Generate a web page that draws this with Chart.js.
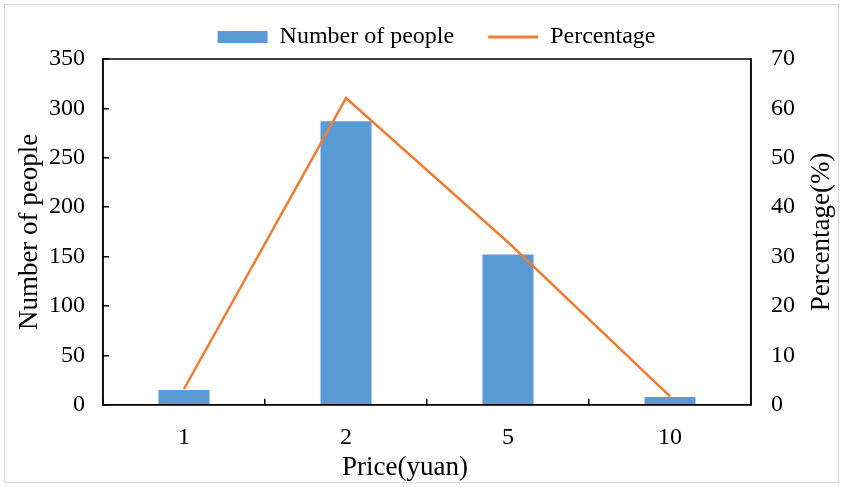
<!DOCTYPE html>
<html>
<head>
<meta charset="utf-8">
<script src="https://cdn.jsdelivr.net/npm/chart.js@4/dist/chart.umd.min.js"></script>
<style>
  html, body { margin: 0; padding: 0; background: #fff; }
  #wrap { width: 843px; height: 487px; }
</style>
</head>
<body>
<div id="wrap"><canvas id="chart"></canvas></div>
<script>
// price categories (yuan)
const prices = ['1', '2', '5', '10'];
// number of people per price
const people = [15, 287, 152, 8];
// share of people (%)
const percentage = [3.2, 62.1, 32.9, 1.7];
// axis ranges
const leftTicks = [0, 50, 100, 150, 200, 250, 300, 350];
const rightTicks = [0, 10, 20, 30, 40, 50, 60, 70];

const serif = "'Liberation Serif', 'Times New Roman', serif";
const black = '#000000';
const blue = '#5B9BD5';
const orange = '#ED7D31';

// frame round the picture, box round the plot, and the titles Chart.js can't place like Excel does
const framePlugin = {
  id: 'frame',
  beforeDraw(chart) {
    const ctx = chart.ctx;
    ctx.save();
    ctx.strokeStyle = '#d9d9d9';
    ctx.lineWidth = 1;
    ctx.strokeRect(4.5, 4.5, chart.width - 9, chart.height - 9);
    ctx.restore();
  },
  afterDraw(chart) {
    const { ctx, chartArea } = chart;
    ctx.save();
    ctx.strokeStyle = black;
    ctx.lineWidth = 1.5;
    ctx.strokeRect(chartArea.left, chartArea.top, chartArea.right - chartArea.left, chartArea.bottom - chartArea.top);

    ctx.fillStyle = black;
    ctx.font = '27px ' + serif;
    ctx.textAlign = 'center';
    ctx.textBaseline = 'middle';
    // x title sits a little left of the plot centre
    const x = chart.scales.x;
    ctx.fillText('Price(yuan)', (chartArea.left + chartArea.right) / 2 - 22, x.bottom - 15);

    // right title reads bottom-up
    const right = chart.scales.y1;
    ctx.translate(right.left + 71, (chartArea.top + chartArea.bottom) / 2);
    ctx.rotate(-Math.PI / 2);
    ctx.fillText('Percentage(%)', 0, 0);
    ctx.restore();
  }
};

new Chart(document.getElementById('chart'), {
  type: 'bar',
  data: {
    labels: prices,
    datasets: [
      {
        type: 'line',
        label: 'Percentage',
        data: percentage,
        yAxisID: 'y1',
        borderColor: orange,
        backgroundColor: orange,
        borderWidth: 2.5,
        pointRadius: 0,
        pointStyle: 'line',
        tension: 0,
        order: 0
      },
      {
        label: 'Number of people',
        data: people,
        yAxisID: 'y',
        backgroundColor: blue,
        borderWidth: 0,
        pointStyle: 'rect',
        categoryPercentage: 1,
        barPercentage: 0.315,
        order: 1
      }
    ]
  },
  options: {
    responsive: true,
    maintainAspectRatio: false,
    animation: false,
    layout: { padding: { top: -9, left: 30, right: 0, bottom: 4 } },
    plugins: {
      legend: {
        display: true,
        position: 'top',
        reverse: true,
        maxHeight: 75,
        labels: {
          color: black,
          font: { family: serif, size: 24 },
          usePointStyle: true,
          pointStyleWidth: 50,
          boxHeight: 12,
          padding: 34,
          generateLabels(chart) {
            const items = Chart.defaults.plugins.legend.labels.generateLabels(chart);
            items.forEach(it => {
              if (it.text === 'Percentage') {
                it.lineWidth = 3;
                it.strokeStyle = orange;
              } else {
                it.lineWidth = 0;
              }
            });
            return items;
          }
        }
      },
      tooltip: { enabled: false }
    },
    scales: {
      x: {
        offset: true,
        grid: {
          display: true,
          offset: true,
          drawOnChartArea: false,
          drawTicks: true,
          tickLength: -6,
          color: black,
          lineWidth: 1.5
        },
        border: { display: true, color: black, width: 1.5 },
        ticks: { color: black, font: { family: serif, size: 24 }, padding: 25 },
        title: {
          display: true,
          text: 'Price(yuan)',
          color: 'rgba(0,0,0,0)',
          font: { family: serif, size: 27 },
          padding: { top: -27, bottom: 0 }
        }
      },
      y: {
        position: 'left',
        min: 0,
        max: 350,
        afterBuildTicks(scale) { scale.ticks = leftTicks.map(v => ({ value: v })); },
        afterFit(scale) { scale.width = 73; },
        grid: {
          display: true,
          drawOnChartArea: false,
          drawTicks: true,
          tickLength: -6,
          color: black,
          lineWidth: 1.5
        },
        border: { display: true, color: black, width: 1.5 },
        ticks: { color: black, font: { family: serif, size: 24 }, padding: 24 },
        title: {
          display: true,
          text: 'Number of people',
          color: black,
          font: { family: serif, size: 27 },
          padding: { top: -16, bottom: 0 }
        }
      },
      y1: {
        position: 'right',
        min: 0,
        max: 70,
        afterBuildTicks(scale) { scale.ticks = rightTicks.map(v => ({ value: v })); },
        afterFit(scale) { scale.width = 92; },
        grid: { display: false, drawTicks: false },
        border: { display: true, color: black, width: 1.5 },
        ticks: { color: black, font: { family: serif, size: 24 }, padding: 20 }
      }
    }
  },
  plugins: [framePlugin]
});
</script>
</body>
</html>
